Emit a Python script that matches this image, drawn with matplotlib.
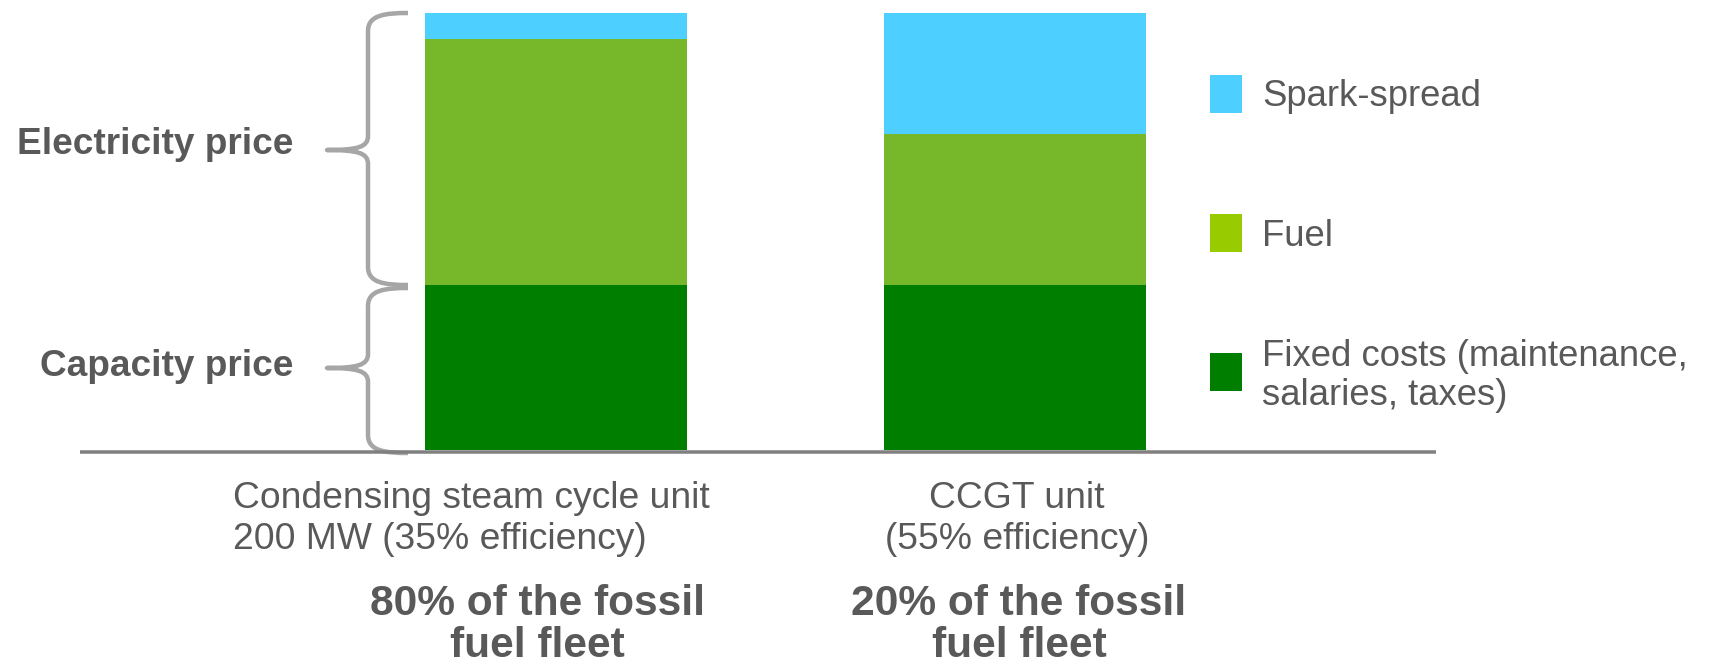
import matplotlib
matplotlib.use("Agg")
import matplotlib.pyplot as plt
from matplotlib.path import Path
from matplotlib.patches import PathPatch, Rectangle
from matplotlib import font_manager as fm

# ---------------- data ----------------
categories = ["Condensing steam cycle unit\n200 MW (35% efficiency)",
              "CCGT unit\n(55% efficiency)"]
fleet_share = ["80% of the fossil\nfuel fleet", "20% of the fossil\nfuel fleet"]
fixed_costs = [37.8, 37.8]
fuel = [56.3, 34.6]
spark_spread = [5.9, 27.9]
series_names = ["Spark-spread", "Fuel", "Fixed costs (maintenance,\nsalaries, taxes)"]
brace_labels = ["Electricity price", "Capacity price"]

# ---------------- style ----------------
C_SPARK = "#4DCFFF"
C_FUEL = "#77B82B"
C_FUEL_LEG = "#99CC00"
C_FIXED = "#007E00"
C_TEXT = "#595959"
C_BRACE = "#A6A6A6"
C_BASE = "#808080"

names = {f.name for f in fm.fontManager.ttflist}
NARROW = "Liberation Sans Narrow" if "Liberation Sans Narrow" in names else "Liberation Sans"
REG = "Liberation Sans"

W, H = 1719, 668
DPI = 100
fig = plt.figure(figsize=(W / DPI, H / DPI), dpi=DPI)

def px(v):
    return v * 72.0 / DPI

# bar axes: centers at 556 and 1015 px, baseline 450 px, top(100) at 13 px
c0, c1 = 556, 1015
step = c1 - c0
left = c0 - step / 2
right = c1 + step / 2
bottom_px, top_px = 450, 13
ax = fig.add_axes([left / W, 1 - bottom_px / H, (right - left) / W, (bottom_px - top_px) / H])
x = [0, 1]
bw = 262 / step
ax.bar(x, fixed_costs, width=bw, color=C_FIXED, linewidth=0)
ax.bar(x, fuel, width=bw, bottom=fixed_costs, color=C_FUEL, linewidth=0)
b2 = [a + b for a, b in zip(fixed_costs, fuel)]
ax.bar(x, spark_spread, width=bw, bottom=b2, color=C_SPARK, linewidth=0)
ax.set_xlim(-0.5, 1.5)
ax.set_ylim(0, 100)
ax.axis("off")

# overlay axes in pixel coordinates
ov = fig.add_axes([0, 0, 1, 1], zorder=5)
ov.set_xlim(0, W)
ov.set_ylim(H, 0)
ov.axis("off")
ov.patch.set_alpha(0)

# baseline
ov.plot([80, 1436], [451.5, 451.5], color=C_BASE, lw=px(3.5), solid_capstyle="butt")

def brace(top, bot, mid, xs=368, xe=408, xt=327):
    verts = [(xe, top),
             (385, top), (xs, top + 2), (xs, top + 18),
             (xs, mid - 14),
             (xs, mid - 3), (358, mid), (xt, mid),
             (358, mid), (xs, mid + 3), (xs, mid + 14),
             (xs, bot - 18),
             (xs, bot - 2), (385, bot), (xe, bot)]
    codes = [Path.MOVETO,
             Path.CURVE4, Path.CURVE4, Path.CURVE4,
             Path.LINETO,
             Path.CURVE4, Path.CURVE4, Path.CURVE4,
             Path.CURVE4, Path.CURVE4, Path.CURVE4,
             Path.LINETO,
             Path.CURVE4, Path.CURVE4, Path.CURVE4]
    ov.add_patch(PathPatch(Path(verts, codes), fill=False, edgecolor=C_BRACE,
                           lw=px(4.5), capstyle="butt", joinstyle="round"))

brace(13, 285, 150)
brace(288, 453, 368)

ov.text(293, 145, brace_labels[0], ha="right", va="center", fontsize=px(37),
        fontweight="bold", color=C_TEXT, family=REG)
ov.text(293, 366, brace_labels[1], ha="right", va="center", fontsize=px(37),
        fontweight="bold", color=C_TEXT, family=REG)

# legend
leg_colors = [C_SPARK, C_FUEL_LEG, C_FIXED]
leg_y = [94, 233, 372]
text_y = [96, 237, 376]
for col, yy, ty, name in zip(leg_colors, leg_y, text_y, series_names):
    ov.add_patch(Rectangle((1210, yy - 19), 32, 38, color=col, linewidth=0))
    ov.text(1262, ty, name, ha="left", va="center", fontsize=px(36.5), color=C_TEXT,
            family=REG, linespacing=1.15)

# category labels
ov.text(233, 519, categories[0], ha="left", va="center", fontsize=px(37.3),
        color=C_TEXT, family=NARROW, linespacing=1.2)
ov.text(1017, 519, categories[1], ha="center", va="center", fontsize=px(37.3),
        color=C_TEXT, family=NARROW, linespacing=1.2, multialignment="center")
ov.text(537, 625, fleet_share[0], ha="center", va="center", fontsize=px(42.5),
        fontweight="bold", color=C_TEXT, family=NARROW, linespacing=1.07)
ov.text(1019, 625, fleet_share[1], ha="center", va="center", fontsize=px(42.5),
        fontweight="bold", color=C_TEXT, family=NARROW, linespacing=1.07)

fig.savefig("out.png", dpi=DPI, facecolor="white")
